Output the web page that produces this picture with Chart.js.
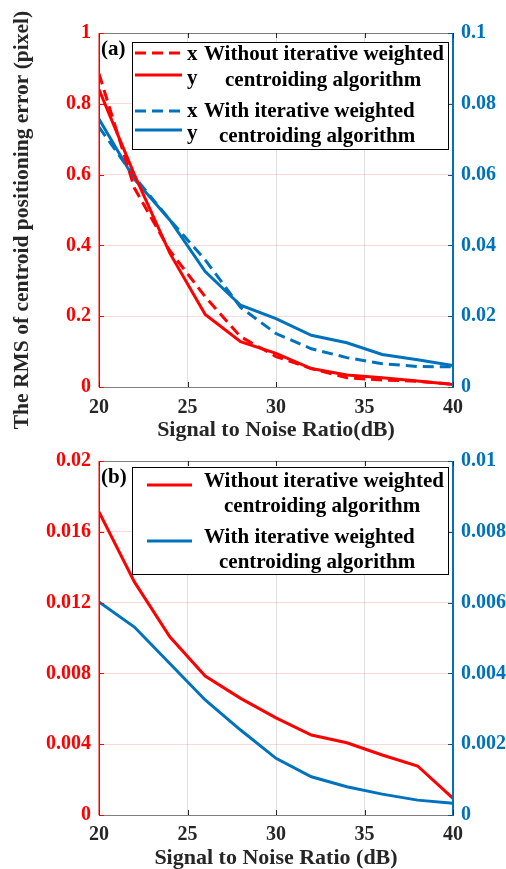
<!DOCTYPE html>
<html>
<head>
<meta charset="utf-8">
<script src="https://cdn.jsdelivr.net/npm/chart.js@4.4.1/dist/chart.umd.min.js"></script>
<style>
html,body{margin:0;padding:0;background:#fff;}
#wrap{position:relative;width:506px;height:869px;overflow:hidden;}
canvas{position:absolute;left:0;}
</style>
</head>
<body>
<div id="wrap">
  <canvas id="grafA" width="506" height="445" style="top:0"></canvas>
  <canvas id="grafB" width="506" height="444" style="top:428px"></canvas>
</div>
<script>
// x-värden (dB)
const snr = [20, 22, 24, 26, 28, 30, 32, 34, 36, 38, 40];

// (a) RMS, vänster axel (röd)
const rmsWithoutX = [0.885, 0.562, 0.385, 0.255, 0.142, 0.086, 0.052, 0.026, 0.02, 0.016, 0.008];
const rmsWithoutY = [0.84, 0.60, 0.378, 0.205, 0.128, 0.095, 0.052, 0.034, 0.026, 0.017, 0.007];
// (a) RMS, höger axel (blå)
const rmsWithX = [0.0734, 0.0594, 0.0472, 0.0359, 0.0225, 0.0151, 0.0108, 0.0083, 0.0066, 0.0058, 0.0057];
const rmsWithY = [0.0757, 0.0587, 0.0472, 0.0326, 0.0231, 0.0193, 0.0146, 0.0125, 0.0092, 0.0077, 0.0061];

// (b) ellipticitet
const ellWithout = [0.01712, 0.01317, 0.01007, 0.00785, 0.00659, 0.00549, 0.00452, 0.00408, 0.00339, 0.00277, 0.00094];
const ellWith = [0.00602, 0.00531, 0.00428, 0.00325, 0.0024, 0.0016, 0.00108, 0.0008, 0.00059, 0.00042, 0.00033];

// texter
const xTitleA = "Signal to Noise Ratio(dB)";
const xTitleB = "Signal to Noise Ratio (dB)";
const yTitleA = "The RMS of centroid positioning error (pixel)";
const yTitleB = "Ellipticity error";
const legendA = ["Without iterative weighted", "centroiding algorithm", "With iterative weighted", "centroiding algorithm"];
const markA = ["x", "y", "x", "y"];
const legendB = ["Without iterative weighted", "centroiding algorithm", "With iterative weighted", "centroiding algorithm"];

const RED = "#ff0000";
const BLUE = "#0072bd";
const DARK = "#262626";
const FAM = '"Liberation Serif", "Times New Roman", serif';

function pts(ys) { return ys.map((v, i) => ({x: snr[i], y: v})); }   // gör {x,y} av arrayerna
function fmt(v) { return String(+Number(v).toFixed(4)); }

// ritar ram, inåtvända ticks, y-titel, (a)/(b) och legendrutan
const deco = {
  id: "deco",
  afterDraw(chart, args, o) {
    const ctx = chart.ctx, a = chart.chartArea;
    const xs = chart.scales.x, yl = chart.scales.yL, yr = chart.scales.yR;
    ctx.save();
    ctx.lineWidth = 1;
    function ln(x0, y0, x1, y1, c) {
      ctx.strokeStyle = c; ctx.beginPath(); ctx.moveTo(x0, y0); ctx.lineTo(x1, y1); ctx.stroke();
    }
    ln(a.left, a.top + 0.5, a.right, a.top + 0.5, "#7f7f7f");       // övre kant
    xs.ticks.forEach(t => {
      const p = Math.round(xs.getPixelForValue(t.value)) + 0.5;
      ln(p, a.bottom, p, a.bottom - 5, DARK);
      ln(p, a.top, p, a.top + 5, DARK);
    });
    yl.ticks.forEach(t => {
      const p = Math.round(yl.getPixelForValue(t.value)) + 0.5;
      ln(a.left, p, a.left + 5, p, RED);
    });
    yr.ticks.forEach(t => {
      const p = Math.round(yr.getPixelForValue(t.value)) + 0.5;
      ln(a.right, p, a.right - 5, p, "#1f4f7a");
    });
    ln(a.left, a.top, a.left, a.bottom, RED);
    ln(a.right - 0.5, a.top, a.right - 0.5, a.bottom, BLUE);

    // y-titel (roterad)
    ctx.save();
    ctx.translate(o.yTitleX, o.yTitleY);
    ctx.rotate(-Math.PI / 2);
    ctx.font = "bold " + o.yTitleSize + "px " + FAM;
    ctx.fillStyle = DARK;
    ctx.textAlign = "center";
    ctx.textBaseline = "middle";
    ctx.fillText(o.yTitle, 0, 0);
    ctx.restore();

    ctx.font = "bold 21px " + FAM;
    ctx.fillStyle = "#000";
    ctx.textBaseline = "alphabetic";
    ctx.textAlign = "left";
    ctx.fillText(o.tag, a.left + 2, a.top + 22);

    // legend
    const b = o.box;
    ctx.fillStyle = "#fff";
    ctx.fillRect(a.left + b.x, a.top + b.y, b.w, b.h);
    ctx.strokeStyle = "#000";
    ctx.strokeRect(a.left + b.x + 0.5, a.top + b.y + 0.5, b.w, b.h);
    o.rows.forEach((r, i) => {
      if (r.ds != null) {
        const ds = chart.data.datasets[r.ds];
        ctx.save();
        ctx.strokeStyle = ds.borderColor;
        ctx.lineWidth = 3;
        ctx.setLineDash(ds.borderDash || []);
        ctx.beginPath();
        ctx.moveTo(a.left + o.lineX0, a.top + r.ly);
        ctx.lineTo(a.left + o.lineX1, a.top + r.ly);
        ctx.stroke();
        ctx.restore();
      }
      ctx.fillStyle = "#000";
      if (o.marks) ctx.fillText(o.marks[i], a.left + o.markX, a.top + r.my);
      ctx.fillText(o.texts[i], a.left + r.tx, a.top + r.ty);
    });
    ctx.restore();
  }
};

function scales(c) {
  const tickFont = {family: FAM, size: 20, weight: "bold"};
  const titleFont = {family: FAM, size: 22, weight: "bold"};
  return {
    x: {
      type: "linear", min: 20, max: 40,
      ticks: {stepSize: 5, color: DARK, font: tickFont, padding: c.xPad, maxRotation: 0},
      grid: {color: "rgba(0,0,0,0.12)", drawTicks: false, tickLength: 0},
      border: {color: "#7f7f7f"},
      title: {display: true, text: c.xTitle, color: DARK, font: titleFont, padding: {top: 0, bottom: c.xTitlePad}},
      afterFit(s) { s.height = c.xH; }
    },
    yL: {
      position: "left", min: 0, max: c.lMax,
      ticks: {stepSize: c.lStep, color: RED, font: tickFont, padding: 8, callback: fmt},
      grid: {color: "rgba(255,0,0,0.15)", drawTicks: false, tickLength: 0},
      border: {color: RED},
      afterFit(s) { s.width = 99; }
    },
    yR: {
      position: "right", min: 0, max: c.rMax,
      ticks: {stepSize: c.rStep, color: BLUE, font: tickFont, padding: 8, callback: fmt},
      grid: {drawOnChartArea: false, drawTicks: false, tickLength: 0},
      border: {color: BLUE},
      afterFit(s) { s.width = 53; }
    }
  };
}

const common = {
  responsive: false,
  animation: false,
  layout: {padding: {top: 33, left: 0, right: 0, bottom: 0}},
  elements: {point: {radius: 0}, line: {borderWidth: 3, tension: 0}},
};

new Chart("grafA", {
  type: "line",
  data: {
    datasets: [
      {data: pts(rmsWithoutX), yAxisID: "yL", borderColor: RED, borderDash: [11, 6]},
      {data: pts(rmsWithoutY), yAxisID: "yL", borderColor: RED},
      {data: pts(rmsWithX), yAxisID: "yR", borderColor: BLUE, borderDash: [11, 6]},
      {data: pts(rmsWithY), yAxisID: "yR", borderColor: BLUE}
    ]
  },
  options: Object.assign({}, common, {
    scales: scales({xTitle: xTitleA, lMax: 1, lStep: 0.2, rMax: 0.1, rStep: 0.02, xH: 58, xPad: 9, xTitlePad: 1}),
    plugins: {
      legend: {display: false},
      tooltip: {enabled: false},
      deco: {
        tag: "(a)",
        yTitle: yTitleA, yTitleX: 22, yTitleY: 220, yTitleSize: 21.5,
        box: {x: 33, y: 9, w: 316, h: 107},
        lineX0: 36, lineX1: 83, markX: 88,
        texts: legendA, marks: markA,
        rows: [
          {ds: 0, ly: 20, my: 27, tx: 105, ty: 27},
          {ds: 1, ly: 42, my: 51, tx: 126, ty: 53},
          {ds: 2, ly: 78, my: 84, tx: 105, ty: 84},
          {ds: 3, ly: 97, my: 106, tx: 120, ty: 109}
        ]
      }
    }
  }),
  plugins: [deco]
});

new Chart("grafB", {
  type: "line",
  data: {
    datasets: [
      {data: pts(ellWithout), yAxisID: "yL", borderColor: RED},
      {data: pts(ellWith), yAxisID: "yR", borderColor: BLUE}
    ]
  },
  options: Object.assign({}, common, {
    scales: scales({xTitle: xTitleB, lMax: 0.02, lStep: 0.004, rMax: 0.01, rStep: 0.002, xH: 57, xPad: 8, xTitlePad: 0}),
    plugins: {
      legend: {display: false},
      tooltip: {enabled: false},
      deco: {
        tag: "(b)",
        yTitle: yTitleB, yTitleX: 22, yTitleY: 638, yTitleSize: 22,
        box: {x: 33, y: 6, w: 316, h: 107},
        lineX0: 48, lineX1: 93,
        texts: legendB,
        rows: [
          {ds: 0, ly: 24, tx: 105, ty: 26},
          {ds: null, tx: 125, ty: 51},
          {ds: 1, ly: 80, tx: 105, ty: 82},
          {ds: null, tx: 120, ty: 107}
        ]
      }
    }
  }),
  plugins: [deco]
});
</script>
</body>
</html>
